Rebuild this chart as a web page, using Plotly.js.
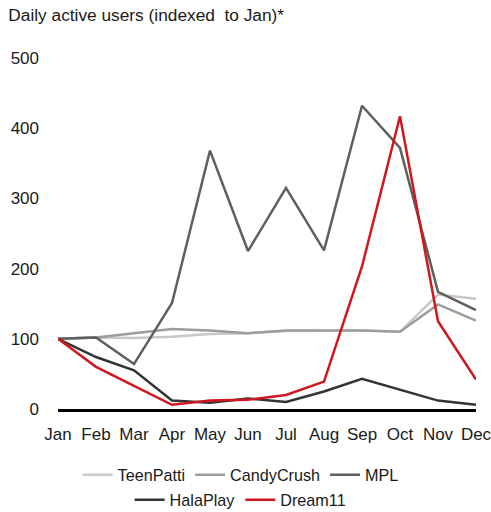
<!DOCTYPE html>
<html>
<head>
<meta charset="utf-8">
<script src="https://cdn.plot.ly/plotly-3.0.1.min.js"></script>
<style>html,body{margin:0;padding:0;background:#fff;}#chart{width:491px;height:512px;}</style>
</head>
<body>
<div id="chart"></div>
<script>
const months = ["Jan","Feb","Mar","Apr","May","Jun","Jul","Aug","Sep","Oct","Nov","Dec"];
const teenPatti = [100,102,101,103,107,108,111,112,112,110,163,157];
const candyCrush = [100,102,108,114,112,108,112,112,112,110,149,126];
const mpl = [100,102,64,151,368,225,315,226,432,372,167,141];
const halaPlay = [100,74,55,12,9,15,10,25,43,28,12,6];
const dream11 = [100,60,33,6,12,13,20,39,203,417,125,42];
const yTicks = [0,100,200,300,400,500];

const series = [
  {name:"TeenPatti", y:teenPatti, color:"#c8c8c8", legend:"legend"},
  {name:"CandyCrush", y:candyCrush, color:"#9d9d9d", legend:"legend"},
  {name:"MPL", y:mpl, color:"#5f5f5f", legend:"legend"},
  {name:"HalaPlay", y:halaPlay, color:"#333333", legend:"legend2"},
  {name:"Dream11", y:dream11, color:"#d0161f", legend:"legend2"}
];

const traces = series.map(s => ({
  type:"scatter", mode:"lines", name:s.name, x:months, y:s.y,
  line:{color:s.color, width:2.5}, legend:s.legend, cliponaxis:false
}));

const fam = "Liberation Sans, Arial, sans-serif";
const tickFont = {family:fam, size:17, color:"#1a1a1a"};
const legendCommon = {orientation:"h", xref:"container", yref:"container", xanchor:"center", yanchor:"middle",
  font:{family:fam, size:16.2, color:"#1a1a1a"}, itemwidth:30, bgcolor:"rgba(0,0,0,0)", tracegroupgap:0};

const layout = {
  width:491, height:512,
  margin:{l:58, r:15, t:58, b:103},
  paper_bgcolor:"#fff", plot_bgcolor:"#fff",
  font:{family:fam, size:16, color:"#1a1a1a"},
  title:{text:"Daily active users (indexed\u00a0 to Jan)*", x:0.017, xanchor:"left", xref:"container", y:0.971, yanchor:"middle", yref:"container", font:{family:fam, size:17.3, color:"#1a1a1a"}},
  xaxis:{type:"category", range:[0,11], showgrid:false, zeroline:false, showline:true, linecolor:"#000", linewidth:2.5,
    ticks:"", ticklabelstandoff:8, tickfont:tickFont, fixedrange:true},
  yaxis:{range:[0,500], tickvals:yTicks, showgrid:false, zeroline:false, showline:false, ticks:"",
    ticklabelstandoff:18, tickfont:tickFont, fixedrange:true},
  showlegend:true,
  legend:Object.assign({}, legendCommon, {x:0.49, y:0.072}),
  legend2:Object.assign({}, legendCommon, {x:0.49, y:0.023})
};

Plotly.newPlot("chart", traces, layout, {displayModeBar:false, staticPlot:true});
</script>
</body>
</html>
